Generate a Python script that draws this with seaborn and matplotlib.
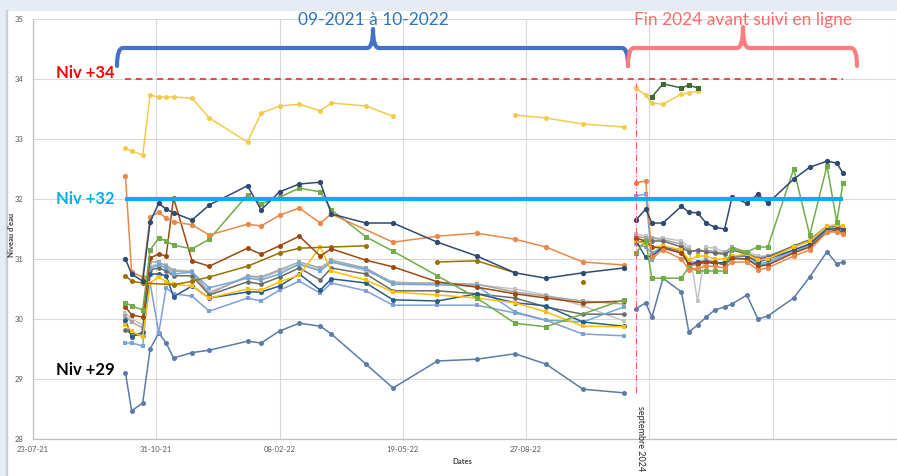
import pandas as pd
import matplotlib
matplotlib.use("Agg")
import matplotlib.pyplot as plt
from matplotlib.path import Path
from matplotlib.patches import PathPatch, Rectangle
from matplotlib.transforms import Affine2D
import seaborn as sns

N = None

# ── Dates de mesure ──────────────────────────────────────────────────────────
dates_p1 = ["2021-10-06", "2021-10-11", "2021-10-20", "2021-10-26", "2021-11-02",
            "2021-11-08", "2021-11-14", "2021-11-29", "2021-12-13", "2022-01-13",
            "2022-01-24", "2022-02-08", "2022-02-24", "2022-03-13", "2022-03-22",
            "2022-04-19", "2022-05-11", "2022-06-16", "2022-07-18", "2022-08-18",
            "2022-09-12", "2022-10-12", "2022-11-14"]
dates_p2 = ["2022-11-24", "2022-12-02", "2022-12-07", "2022-12-16", "2022-12-31",
            "2023-01-06", "2023-01-13", "2023-01-20", "2023-01-27", "2023-02-04",
            "2023-02-10", "2023-02-22", "2023-03-03", "2023-03-11", "2023-04-01",
            "2023-04-14", "2023-04-28", "2023-05-06", "2023-05-11"]

# ── Niveaux d'eau par piézomètre (période 1 / période 2) ────────────────────
acier_p1 = [29.10, 28.47, 28.60, 29.50, 29.77, 29.60, 29.35, 29.44, 29.48, 29.63, 29.60, 29.80,
            29.93, 29.88, 29.75, 29.25, 28.85, 29.30, 29.33, 29.42, 29.25, 28.83, 28.77]
acier_p2 = [30.17, 30.27, 30.03, 30.68, 30.45, 29.78, 29.90, 30.03, 30.15, 30.20, 30.25, 30.40,
            30.00, 30.05, 30.35, 30.70, 31.12, 30.92, 30.95]

gris_clair_p1 = [30.10, 30.00, 29.90, 30.88, 30.92, 30.90, 30.82, 30.80, 30.45, 30.70, 30.68, 30.80,
                 30.90, 30.82, 30.95, 30.80, 30.62, 30.58, 30.57, 30.50, 30.40, 30.22, 29.97]
gris_clair_p2 = [31.42, 31.38, 31.35, 31.35, 31.30, 31.20, 30.30, 31.20, 31.18, 31.12, 31.20, 31.12,
                 31.05, 31.05, 31.20, 31.30, 31.50, 31.55, 31.52]

gris_p1 = [30.05, 29.95, 29.85, 30.95, 30.95, 30.88, 30.80, 30.78, 30.42, 30.72, 30.70, 30.82,
           30.95, 30.85, 30.98, 30.85, 30.60, 30.60, 30.58, 30.45, 30.38, 30.30, 30.25]
gris_p2 = [31.38, 31.35, 31.35, 31.32, 31.25, 31.15, 31.12, 31.15, 31.12, 31.10, 31.20, 31.10,
           31.02, 31.05, 31.20, 31.30, 31.50, 31.55, 31.52]

gris_fonce_p1 = [29.82, 29.75, 29.72, 30.82, 30.85, 30.80, 30.72, 30.72, 30.40, 30.62, 30.58, 30.70,
                 30.85, 30.65, 30.85, 30.75, 30.47, 30.47, 30.42, 30.35, 30.20, 30.08, 30.08]
gris_fonce_p2 = [31.28, 31.30, 31.30, 31.30, 31.20, 31.12, 31.15, 31.12, 31.10, 31.08, 31.15, 31.08,
                 31.00, 31.03, 31.22, 31.32, 31.55, 31.55, 31.50]

bleu_clair_p1 = [29.60, 29.60, 29.55, 30.85, 30.90, 30.85, 30.75, 30.78, 30.52, 30.68, 30.65, 30.75,
                 30.92, 30.80, 30.95, 30.83, 30.58, 30.57, 30.55, 30.12, 29.98, 29.95, 30.20]
bleu_clair_p2 = [32.05, 32.08, 30.98, 31.20, 31.10, 30.90, 30.90, 30.95, 30.95, 30.90, 31.00, 31.00,
                 30.90, 30.92, 31.12, 31.22, 31.48, 31.52, 31.50]

bleu_moyen_p1 = [29.95, 29.72, 29.75, 30.60, 29.77, 30.52, 30.42, 30.38, 30.13, 30.35, 30.30, 30.48,
                 30.63, 30.43, 30.60, 30.47, 30.23, 30.23, 30.23, 30.10, 29.98, 29.75, 29.72]
bleu_moyen_p2 = [31.25, 31.20, 31.10, 31.20, 31.12, 30.95, 30.95, 30.98, 30.95, 30.92, 31.00, 31.00,
                 30.92, 30.95, 31.15, 31.25, 31.50, 31.52, 31.50]

marine_p1 = [29.98, 29.70, 29.78, 30.75, 30.75, 30.72, 30.37, 30.55, 30.35, 30.45, 30.45, 30.55,
             30.75, 30.48, 30.67, 30.60, 30.32, 30.30, 30.42, 30.27, 30.22, 29.95, 29.88]
marine_p2 = [31.30, 31.03, 31.05, 31.20, 31.15, 30.90, 30.95, 30.95, 30.92, 30.95, 31.05, 31.05,
             30.95, 31.00, 31.15, 31.25, 31.50, 31.50, 31.50]

jaune_p1 = [29.90, 29.80, 29.70, 30.60, 30.70, 30.62, 30.58, 30.55, 30.35, 30.50, 30.48, 30.62,
            30.73, 31.20, 30.80, 30.65, 30.45, 30.40, 30.35, 30.27, 30.12, 29.88, 29.87]
jaune_p2 = [31.30, 31.25, 31.20, 31.22, 31.15, 30.98, 31.05, 31.05, 31.00, 31.00, 31.05, 31.08,
            30.98, 31.00, 31.20, 31.30, 31.55, 31.57, 31.55]

olive_p1 = [30.72, 30.63, 30.60, N, N, N, 30.57, 30.63, 30.70, 30.88, N, 31.10,
            31.18, N, 31.20, 31.22, N, 30.95, 30.97, 30.77, N, 30.62, N]

brun_p1 = [30.20, 30.07, 30.03, 31.02, 31.08, 31.05, 32.02, 30.97, 30.88, 31.18, 31.08, 31.22,
           31.38, 31.05, 31.17, 30.98, 30.87, 30.62, 30.53, 30.42, 30.35, 30.27, 30.30]
brun_p2 = [31.35, 31.30, 31.20, 31.18, 31.10, 30.92, 30.92, 30.95, 30.95, 30.90, 31.02, 31.00,
           30.88, 30.90, 31.10, 31.20, 31.45, 31.48, 31.45]

vert_p1 = [30.27, 30.22, 30.15, 31.15, 31.35, 31.30, 31.23, 31.17, 31.33, 32.07, 31.92, 32.03,
           32.18, 32.12, 31.82, 31.37, 31.13, 30.72, 30.35, 29.93, 29.87, N, 30.32]
vert_p2 = [31.10, 31.30, 30.68, 30.68, 30.68, 30.87, 30.80, 30.80, 30.80, 30.80, 31.17, 31.12,
           31.20, 31.20, 32.50, 31.40, 32.55, 31.62, 32.27]

orange_p1 = [32.38, 30.78, 30.70, 31.70, 31.78, 31.68, 31.62, 31.57, 31.40, 31.58, 31.55, 31.73,
             31.85, 31.60, 31.75, N, 31.28, 31.38, 31.43, 31.33, 31.20, 30.95, 30.90]
orange_p2 = [32.27, 32.30, 31.03, 31.15, 31.00, 30.82, 30.85, 30.88, 30.88, 30.85, 30.95, 30.95,
             30.82, 30.85, 31.05, 31.15, 31.45, 31.45, 31.42]

bleu_nuit_p1 = [31.00, 30.75, 30.63, 31.62, 31.93, 31.83, 31.77, 31.65, 31.90, 32.22, 31.82, 32.12,
                32.25, 32.28, 31.75, 31.60, 31.60, 31.28, 31.05, 30.77, 30.68, 30.77, 30.85]
bleu_nuit_p2 = [31.65, 31.83, 31.60, 31.60, 31.88, 31.78, 31.77, 31.60, 31.53, 31.50, 32.03, 31.93,
                32.08, 31.93, 32.33, 32.53, 32.63, 32.60, 32.43]

jaune_haut_p1 = [32.85, 32.80, 32.73, 33.73, 33.70, 33.70, 33.70, 33.68, 33.35, 32.95, 33.43, 33.55,
                 33.58, 33.47, 33.60, 33.55, 33.38, N, N, 33.40, 33.35, 33.25, 33.20]
jaune_haut_p2 = [33.85, 33.73, 33.60, 33.58, 33.75, 33.77, 33.80, N, N, N, N, N,
                 N, N, N, N, N, N, N]

vert_fonce_p2 = [N, N, 33.70, 33.92, 33.85, 33.90, 33.85, N, N, N, N, N,
                 N, N, N, N, N, N, N]

# interruptions de courbe (pas de trait après ces dates)
coupures = {"jaune_haut": ["2022-05-11"], "olive": ["2022-04-19", "2022-08-18"]}

series = [
    ("acier", acier_p1, acier_p2),
    ("gris_clair", gris_clair_p1, gris_clair_p2),
    ("gris", gris_p1, gris_p2),
    ("gris_fonce", gris_fonce_p1, gris_fonce_p2),
    ("bleu_clair", bleu_clair_p1, bleu_clair_p2),
    ("bleu_moyen", bleu_moyen_p1, bleu_moyen_p2),
    ("marine", marine_p1, marine_p2),
    ("jaune", jaune_p1, jaune_p2),
    ("olive", olive_p1, None),
    ("brun", brun_p1, brun_p2),
    ("vert", vert_p1, vert_p2),
    ("orange", orange_p1, orange_p2),
    ("bleu_nuit", bleu_nuit_p1, bleu_nuit_p2),
    ("jaune_haut", jaune_haut_p1, jaune_haut_p2),
    ("vert_fonce", None, vert_fonce_p2),
]

niveaux_ref = [34, 32, 29]
niveaux_txt = ["Niv +34", "Niv +32", "Niv +29"]
x_ticks_labels = ["23-07-21", "31-10-21", "08-02-22", "19-05-22", "27-08-22", "", "", ""]
date_septembre = "2022-11-24"
septembre_bornes = (28.77, 33.93)

# ── Styles ───────────────────────────────────────────────────────────────────
styles = {
    "acier": ("#5B7BA8", "o", 3.6),
    "gris_clair": ("#C4C4C4", "s", 3.4),
    "gris": ("#A5A5A5", "s", 3.4),
    "gris_fonce": ("#6B6B6B", "o", 3.4),
    "bleu_clair": ("#6FA8DC", "s", 3.4),
    "bleu_moyen": ("#7F9FD8", "s", 3.4),
    "marine": ("#2B5A8C", "o", 3.6),
    "jaune": ("#FFC000", "s", 3.4),
    "olive": ("#997300", "o", 3.6),
    "brun": ("#9E480E", "o", 3.6),
    "vert": ("#70AD47", "s", 3.6),
    "orange": ("#E8894A", "o", 3.8),
    "bleu_nuit": ("#2E4A72", "o", 3.8),
    "jaune_haut": ("#F2CB4C", "o", 3.6),
    "vert_fonce": ("#3E6B34", "s", 3.6),
}

W, H = 897, 476
sns.set_style("white")
plt.rcParams["font.family"] = ["Lato", "DejaVu Sans"]

fig = plt.figure(figsize=(W / 100, H / 100), dpi=100)
px = Affine2D().scale(1 / W, -1 / H).translate(0, 1) + fig.transFigure

# cadre de la capture
fig.add_artist(Rectangle((0, 0), W, 10, transform=px, color="#E7EBF3", zorder=0))
fig.add_artist(Rectangle((0, 0), 6, H, transform=px, color="#E7EBF3", zorder=0))
fig.add_artist(Rectangle((6, 10), 1.2, H, transform=px, color="#C9CED8", zorder=0))

ax = fig.add_axes([33 / W, 1 - 439 / H, (896 - 33) / W, (439 - 19) / H])

# ── Données longues ──────────────────────────────────────────────────────────
rows = []
for nom, p1, p2 in series:
    seg = 0
    for dates, vals in ((dates_p1, p1), (dates_p2, p2)):
        seg += 1
        vals = vals if vals is not None else [None] * len(dates)
        for d, v in zip(dates, vals):
            if v is not None:
                rows.append((nom, pd.Timestamp(d), v, seg))
            if d in coupures.get(nom, []):
                seg += 1
df = pd.DataFrame(rows, columns=["piezo", "date", "niveau", "seg"])

for nom, _, _ in series:
    couleur, mk, ms = styles[nom]
    sns.lineplot(data=df[df.piezo == nom], x="date", y="niveau", units="seg",
                 estimator=None, sort=False, color=couleur, marker=mk, markersize=ms,
                 markeredgewidth=0, lw=1.1, ax=ax, legend=False)

# ── Lignes de référence ──────────────────────────────────────────────────────
d0, d1 = pd.Timestamp(dates_p1[0]), pd.Timestamp(dates_p2[-1])
ax.hlines(niveaux_ref[0], d0, d1, color="#E02020", lw=1.1, ls=(0, (4, 3)), zorder=5)
ax.hlines(niveaux_ref[1], d0, d1, color="#00B0F0", lw=3.0, zorder=6)
ax.vlines(pd.Timestamp(date_septembre), *septembre_bornes, color="#FF5A5A",
          lw=0.8, ls=(0, (6, 2, 1, 2)), zorder=5)

# ── Axes ─────────────────────────────────────────────────────────────────────
ticks = pd.date_range("2021-07-23", periods=8, freq="100D")
ax.set_xlim(ticks[0], ticks[-1])
ax.set_xticks(ticks)
ax.set_xticklabels(x_ticks_labels)
ax.set_ylim(28, 35)
ax.set_yticks(range(28, 36))
ax.set_yticklabels([str(v) for v in range(28, 36)])
ax.grid(True, color="#D9D9D9", lw=0.8)
ax.set_axisbelow(True)
for s in ["top", "right"]:
    ax.spines[s].set_visible(False)
for s in ["left", "bottom"]:
    ax.spines[s].set_color("#BFBFBF")
    ax.spines[s].set_linewidth(0.9)
ax.tick_params(length=0, labelsize=5.5, labelcolor="#595959")
ax.tick_params(axis="y", pad=7)
ax.tick_params(axis="x", pad=5)
ax.set_xlabel("")
ax.set_ylabel("")

fig.text(12 / W, 1 - 235 / H, "Niveau d'eau", rotation=90, ha="center", va="center",
         fontsize=5.5, fontweight="bold", color="#404040")
fig.text(462 / W, 1 - 462 / H, "Dates", ha="center", va="center",
         fontsize=5.5, fontweight="bold", color="#404040")
fig.text(640 / W, 1 - 406 / H, "septembre 2024", rotation=270, ha="center", va="top",
         fontsize=6.5, color="#262626")

# ── Annotations ──────────────────────────────────────────────────────────────
for txt, y, c in zip(niveaux_txt, [73, 199, 370], ["#FF0000", "#00B0F0", "#000000"]):
    fig.text(115 / W, 1 - y / H, txt, ha="right", va="center", fontsize=12,
             fontweight="bold", color=c)


def accolade(x0, x1, xm, y_haut, y_bas, y_pic, couleur):
    r = 6
    verts = [(x0, y_bas), (x0, y_haut), (x0 + r, y_haut),
             (xm - r, y_haut), (xm, y_haut), (xm, y_pic),
             (xm, y_haut), (xm + r, y_haut),
             (x1 - r, y_haut), (x1, y_haut), (x1, y_bas)]
    codes = [Path.MOVETO, Path.CURVE3, Path.CURVE3,
             Path.LINETO, Path.CURVE3, Path.CURVE3,
             Path.CURVE3, Path.CURVE3,
             Path.LINETO, Path.CURVE3, Path.CURVE3]
    fig.add_artist(PathPatch(Path(verts, codes), transform=px, fill=False,
                             edgecolor=couleur, lw=3, capstyle="round", joinstyle="round"))


accolade(117, 628, 373, 48, 66, 29, "#4472C4")
accolade(628, 857, 743, 48, 66, 27, "#FF7C80")

fig.text(373 / W, 1 - 20 / H, "09-2021 à 10-2022", ha="center", va="center",
         fontsize=12.5, color="#2E75B6")
fig.text(743 / W, 1 - 20 / H, "Fin 2024 avant suivi en ligne", ha="center", va="center",
         fontsize=12.5, color="#FF6B6B")

fig.savefig("out.png", dpi=100)
